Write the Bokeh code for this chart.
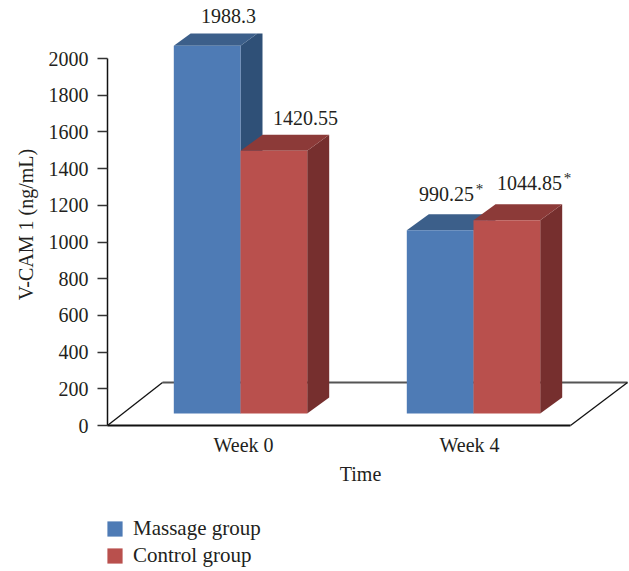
from bokeh.embed import file_html
from bokeh.resources import INLINE
from bokeh.plotting import figure
from bokeh.models import FixedTicker, Label, Legend, LegendItem, LinearAxis, Range1d

# Chart values
weeks = ["Week 0", "Week 4"]
massage_group = [1988.3, 990.25]
control_group = [1420.55, 1044.85]
massage_labels = ["1988.3", "990.25"]
control_labels = ["1420.55", "1044.85"]
massage_marks = ["", "*"]
control_marks = ["", "*"]
y_ticks = [0, 200, 400, 600, 800, 1000, 1200, 1400, 1600, 1800, 2000]

# Page geometry, in pixels; the frame fills the page and the axes sit inside it
WIDTH, HEIGHT = 629, 571
AXIS_X, AXIS_Y = 107, 425
CEILING_PX = 33            # the 3D scene is cut off above this line
PX_PER_GROUP = 233.0       # pixels between the two bar groups
PX_PER_UNIT = 367 / 2000   # pixels per V-CAM unit along the y axis
GROUP0_PX = 240            # x of the first group's centre


def xu(px):
    return (px - GROUP0_PX) / PX_PER_GROUP


def yu(px):
    return (AXIS_Y - px) / PX_PER_UNIT


# Oblique projection of the 3D columns
BAR_W = 66.7 / PX_PER_GROUP
DEPTH_X = 22 / PX_PER_GROUP
DEPTH_Y = 16 / PX_PER_UNIT
BASE = yu(413)
HEIGHT_SCALE = 1.008
CEILING = yu(CEILING_PX)

FONT = "Liberation Serif"
TEXT = "#231f20"
FS = "20px"

BLUE = ("#4e7bb5", "#3c5f8a", "#2f5077")
RED = ("#b9504d", "#8c3a38", "#762f2e")

p = figure(width=WIDTH, height=HEIGHT, output_backend="svg", toolbar_location=None,
           x_range=Range1d(xu(0), xu(WIDTH)), y_range=Range1d(yu(HEIGHT), yu(0)),
           min_border=0, outline_line_color=None, x_axis_type=None, y_axis_type=None,
           background_fill_color="white", border_fill_color="white")
p.grid.visible = False

# Axes
ya = LinearAxis(fixed_location=xu(AXIS_X), ticker=FixedTicker(ticks=y_ticks), bounds=(0, 2000),
                axis_line_color="#111111", axis_line_width=1.5,
                major_tick_line_color="#333333", major_tick_line_width=1.5,
                major_tick_out=10, major_tick_in=0, minor_tick_line_color=None,
                major_label_text_font=FONT, major_label_text_font_size=FS,
                major_label_text_color=TEXT, major_label_standoff=9)
p.add_layout(ya, "left")

tick_pos = [xu(243), xu(469)]
xa = LinearAxis(fixed_location=0, ticker=FixedTicker(ticks=tick_pos),
                major_label_overrides={tick_pos[0]: weeks[0], tick_pos[1]: weeks[1]},
                bounds=(xu(AXIS_X), xu(570)),
                axis_line_color="#111111", axis_line_width=2,
                major_tick_line_color=None, minor_tick_line_color=None,
                major_tick_out=0, major_tick_in=0,
                major_label_text_font=FONT, major_label_text_font_size=FS,
                major_label_text_color=TEXT, major_label_standoff=8)
p.add_layout(xa, "below")

# Floor of the 3D plot area
floor_y = yu(382)
p.line([xu(162), xu(627)], [floor_y, floor_y], line_color="#555555", line_width=2)
p.line([xu(AXIS_X), xu(162)], [0, floor_y], line_color="#111111", line_width=1.3)
p.line([xu(570), xu(627)], [0, floor_y], line_color="#111111", line_width=1.3)


def clip_to_ceiling(xs, ys):
    """Cut a polygon along the horizontal ceiling of the scene."""
    out_x, out_y = [], []
    n = len(xs)
    for i in range(n):
        x0, y0, x1, y1 = xs[i], ys[i], xs[(i + 1) % n], ys[(i + 1) % n]
        if y0 <= CEILING:
            out_x.append(x0)
            out_y.append(y0)
        if (y0 <= CEILING) != (y1 <= CEILING):
            t = (CEILING - y0) / (y1 - y0)
            out_x.append(x0 + t * (x1 - x0))
            out_y.append(CEILING)
    return out_x, out_y


def bar_top(v):
    return BASE + v * HEIGHT_SCALE


# Columns: back faces first, so each front face overlaps its neighbour
def column(centre, series_index, value, colours):
    x0 = centre + (series_index - 1) * BAR_W
    x1 = x0 + BAR_W
    top = bar_top(value)
    front, roof, flank = colours
    p.patch(*clip_to_ceiling([x1, x1 + DEPTH_X, x1 + DEPTH_X, x1],
                             [BASE, BASE + DEPTH_Y, top + DEPTH_Y, top]),
            fill_color=flank, line_color=None)
    p.patch(*clip_to_ceiling([x0, x0 + DEPTH_X, x1 + DEPTH_X, x1],
                             [top, top + DEPTH_Y, top + DEPTH_Y, top]),
            fill_color=roof, line_color=None)
    return p.quad(left=x0, right=x1, bottom=BASE, top=top, fill_color=front, line_color=None)


blue_renderers = [column(i, 0, v, BLUE) for i, v in enumerate(massage_group)]
red_renderers = [column(i, 1, v, RED) for i, v in enumerate(control_group)]


# Value labels, placed relative to the top of each column
def note(x, y, text, size=FS, dx=0, dy=0):
    p.add_layout(Label(x=x, y=y, text=text, text_font=FONT, text_font_size=size,
                       text_color=TEXT, text_align="center", text_baseline="middle",
                       x_offset=dx, y_offset=dy))


note(0, bar_top(massage_group[0]), massage_labels[0], dx=-12, dy=30)
note(0, bar_top(control_group[0]), control_labels[0], dx=65, dy=33)
note(1, bar_top(massage_group[1]), massage_labels[1], dx=-27, dy=36)
note(1, bar_top(control_group[1]), control_labels[1], dx=56, dy=37)
note(1, bar_top(massage_group[1]), massage_marks[1], size="15px", dx=6, dy=41)
note(1, bar_top(control_group[1]), control_marks[1], size="15px", dx=94, dy=42)

# Axis titles
p.add_layout(Label(x=xu(25), y=yu(224), text="V-CAM 1 (ng/mL)", angle=90, angle_units="deg",
                   text_font=FONT, text_font_size=FS, text_color=TEXT,
                   text_align="center", text_baseline="middle"))
p.add_layout(Label(x=xu(360), y=yu(473), text="Time", text_font=FONT, text_font_size=FS,
                   text_color=TEXT, text_align="center", text_baseline="middle"))

# Legend under the plot
legend = Legend(items=[LegendItem(label="Massage group", renderers=[blue_renderers[0]]),
                       LegendItem(label="Control group", renderers=[red_renderers[0]])],
                location=(AXIS_X - 2, HEIGHT - 568), orientation="vertical",
                glyph_width=19, glyph_height=19, spacing=2, label_standoff=9,
                margin=0, padding=0, border_line_color=None, background_fill_alpha=0,
                label_text_font=FONT, label_text_font_size="21px", label_text_color=TEXT)
p.add_layout(legend, "center")

open("out.html", "w").write(file_html(p, INLINE))
